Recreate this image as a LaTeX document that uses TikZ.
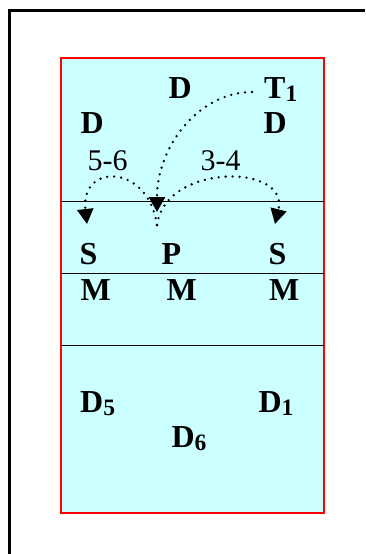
\documentclass[tikz,border=0pt]{standalone}
\usepackage{fontspec}
\setmainfont{Liberation Serif}
\usetikzlibrary{arrows.meta}
\definecolor{court}{RGB}{204,255,255}
\newcommand\mysub[1]{\raisebox{-3.5pt}{\fontsize{23.5}{23.5}\selectfont #1}}
\begin{document}
\begin{tikzpicture}[x=1pt,y=-1pt,
  lbl/.style={inner sep=0pt, anchor=base west, font=\bfseries\fontsize{32}{32}\selectfont},
  num/.style={inner sep=0pt, anchor=base west, font=\fontsize{30}{30}\selectfont},
  move/.style={line width=2.6pt, line cap=round, dash pattern=on 0pt off 7pt, -{Triangle[width=16pt,length=15pt]}},
  netline/.style={line width=1.3pt},
]
\useasboundingbox (0,0) rectangle (365,554);
\draw[line width=2.5pt] (9.5,554) -- (9.5,10.5) -- (365,10.5);
\draw[red, line width=2pt, fill=court] (60.5,57.8) rectangle (323.8,513);
\draw[netline] (60.5,201.5) -- (323.8,201.5);
\draw[netline] (60.5,273.3) -- (323.8,273.3);
\draw[netline] (60.5,345.7) -- (323.8,345.7);

\node[lbl] (dTop) at (168.5,98) {D};
\node[lbl] (t1) at (264,98) {T\mysub{1}};
\node[lbl] (dL) at (80.5,133.5) {D};
\node[lbl] (dR) at (263.5,133.5) {D};
\node[num] (n56) at (87.5,170.5) {5-6};
\node[num] (n34) at (200.5,170.5) {3-4};
\node[lbl] (sL) at (79.5,264) {S};
\node[lbl] (p) at (161.5,264) {P};
\node[lbl] (sR) at (268.5,264) {S};
\node[lbl] (mL) at (80.5,300) {M};
\node[lbl] (mC) at (166.5,300) {M};
\node[lbl] (mR) at (269,300) {M};
\node[lbl] (d5) at (80,412) {D\mysub{5}};
\node[lbl] (d1) at (258.3,412) {D\mysub{1}};
\node[lbl] (d6) at (171.3,447) {D\mysub{6}};

\coordinate (tStart) at (252,92);
\coordinate (cTip) at (157,212);
\coordinate (fork) at (157,225);
\coordinate (lTip) at (87,224);
\coordinate (rTip) at (275,224);
\draw[move] (tStart) .. controls (199.5,92) and (157,145.7) .. (cTip);
\draw[move] (fork) .. controls (148,163) and (80,163) .. (lTip);
\draw[move] (fork) .. controls (165,163) and (290,163) .. (rTip);
\end{tikzpicture}
\end{document}
